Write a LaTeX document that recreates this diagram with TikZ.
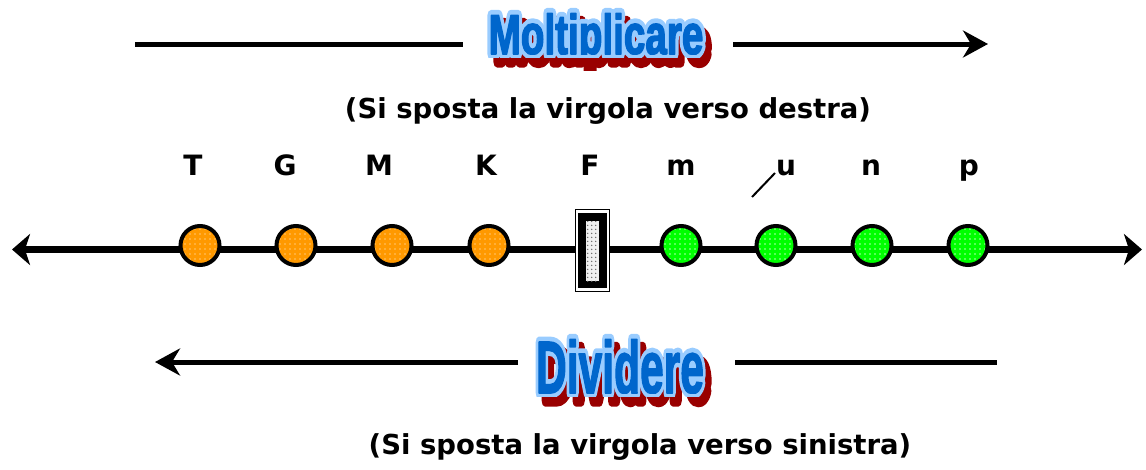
\documentclass[tikz,border=0pt]{standalone}
\usepackage{fontspec}
\setmainfont{DejaVu Sans}
\newfontfamily\ttlMoltOut{Liberation Sans Bold}[FakeBold=20]
\newfontfamily\ttlDivOut{Liberation Sans Bold}[FakeBold=15]
\newfontfamily\ttlMoltFill{Liberation Sans Bold}[FakeBold=3]
\newfontfamily\ttlDivFill{Liberation Sans Bold}[FakeBold=2.3]
\usetikzlibrary{arrows.meta,patterns.meta}
\definecolor{tblue}{HTML}{0066CC}
\definecolor{tlight}{HTML}{99CCFF}
\definecolor{tred}{HTML}{990000}
\definecolor{dorange}{HTML}{FF9900}
\definecolor{dgreen}{HTML}{00FF00}
\tikzset{
  lbl/.style={font=\fontsize{28}{28}\selectfont\bfseries, anchor=base, inner sep=0pt},
  subtxt/.style={font=\fontsize{27.5}{28}\selectfont\bfseries, anchor=base, inner sep=0pt},
  ttl/.style={anchor=base, inner sep=0pt, line join=round},
  dotbase/.style={circle, draw=black, line width=4pt, minimum size=39pt, inner sep=0pt},
  dotorange/.style={dotbase, preaction={fill=dorange},
    preaction={pattern={Dots[distance=5pt,radius=0.8pt]}, pattern color=white!45!dorange}},
  dotgreen/.style={dotbase, preaction={fill=dgreen},
    preaction={pattern={Dots[distance=5pt,radius=0.8pt]}, pattern color=white!70!dgreen}},
  mainline/.style={line width=5pt},
  axisline/.style={line width=6.5pt},
  bigtip/.style={-{Stealth[length=25pt,width=27pt,inset=8pt]}},
  axistips/.style={{Stealth[length=18pt,width=31pt,inset=5pt]}-{Stealth[length=18pt,width=31pt,inset=5pt]}},
}
% name, x, y, outline font, fill font, font size, xscale, text
\newcommand{\fancytitle}[8]{%
  \begin{scope}
    \clip (#2-200,#3-100) rectangle (#2+200,#3+16);
    \node[ttl, text=tred] (#1-shadow) at (#2+6,#3+8)
      {#4\fontsize{#6}{#6}\selectfont\scalebox{#7}[1]{#8}};
  \end{scope}
  \begin{scope}
    \clip (#2-200,#3-100) rectangle (#2+200,#3+3.5);
    \node[ttl, text=tlight] (#1-outline) at (#2,#3)
      {#4\fontsize{#6}{#6}\selectfont\scalebox{#7}[1]{#8}};
  \end{scope}
  \begin{scope}
    \clip (#2-200,#3-100) rectangle (#2+200,#3+0.5);
    \node[ttl, text=tblue] (#1) at (#2,#3)
      {#5\fontsize{#6}{#6}\selectfont\scalebox{#7}[1]{#8}};
  \end{scope}
}
\begin{document}
\begin{tikzpicture}[x=1pt,y=-1pt]
\useasboundingbox (0,0) rectangle (1146,469);

% top: Moltiplicare
\coordinate (ta) at (135,44);
\coordinate (tb) at (463,44);
\coordinate (tc) at (733,44);
\coordinate (td) at (988,44);
\draw[mainline] (ta) -- (tb);
\draw[mainline, bigtip] (tc) -- (td);
\fancytitle{molt}{596}{54}{\ttlMoltOut}{\ttlMoltFill}{56}{0.69}{Moltiplicare}
\node[subtxt] (sub1) at (608,118) {(Si sposta la virgola verso destra)};

% prefix labels
\node[lbl] (lT) at (193,175) {T};
\node[lbl] (lG) at (285,175) {G};
\node[lbl] (lM) at (379,175) {M};
\node[lbl] (lK) at (486,175) {K};
\node[lbl] (lF) at (590,175) {F};
\node[lbl] (lm) at (681,175) {m};
\node[lbl] (lu) at (786,175) {u};
\node[lbl] (ln) at (871,175) {n};
\node[lbl] (lp) at (969,175) {p};
\coordinate (sl1) at (752,197);
\coordinate (sl2) at (775,173);
\draw[line width=2pt] (sl1) -- (sl2);

% axis
\coordinate (axL) at (12,249.5);
\coordinate (axR) at (1142,249.5);
\draw[axisline, axistips] (axL) -- (axR);

\node[dotorange] (cT) at (200,245.5) {};
\node[dotorange] (cG) at (296,245.5) {};
\node[dotorange] (cM) at (392,245.5) {};
\node[dotorange] (cK) at (489,245.5) {};
\node[dotgreen] (cm) at (681,245.5) {};
\node[dotgreen] (cu) at (776,245.5) {};
\node[dotgreen] (cn) at (872,245.5) {};
\node[dotgreen] (cp) at (968,245.5) {};

% F box
\node[draw=black, fill=white, line width=1.3pt, minimum width=34pt, minimum height=82pt, inner sep=0pt] (Fout) at (592.5,250.5) {};
\node[fill=black, minimum width=29pt, minimum height=75pt, inner sep=0pt] (Fblk) at (592.5,250.5) {};
\node[fill=gray!12, minimum width=13pt, minimum height=60pt, inner sep=0pt,
  postaction={pattern={Dots[distance=4pt,radius=0.9pt]}, pattern color=gray!80!black}] (Fin) at (592.5,251) {};

% bottom: Dividere
\coordinate (ba) at (155,362);
\coordinate (bb) at (518,362);
\coordinate (bc) at (735,362);
\coordinate (bd) at (997,362);
\draw[mainline, bigtip] (bb) -- (ba);
\draw[mainline] (bc) -- (bd);
\fancytitle{divid}{620}{393}{\ttlDivOut}{\ttlDivFill}{74}{0.575}{Dividere}
\node[subtxt] (sub2) at (640,454) {(Si sposta la virgola verso sinistra)};
\end{tikzpicture}
\end{document}
